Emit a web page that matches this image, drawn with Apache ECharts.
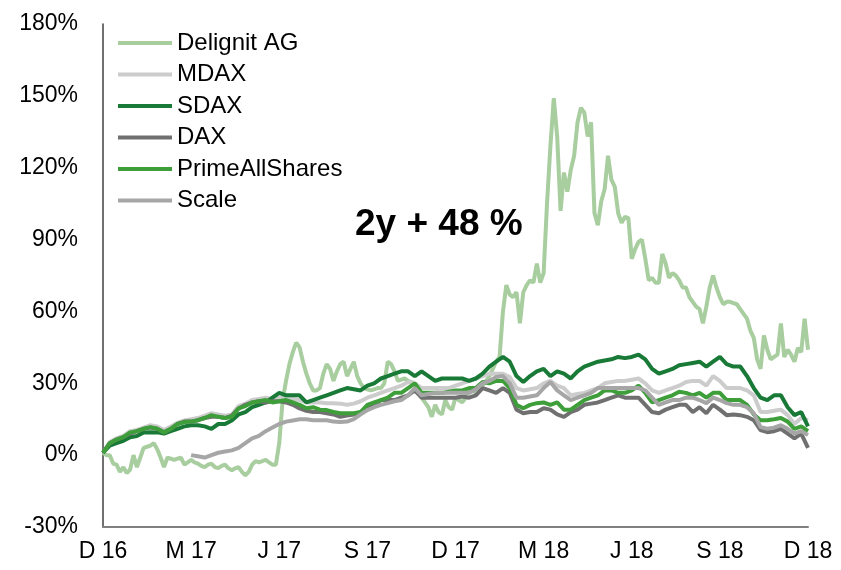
<!DOCTYPE html>
<html lang="en">
<head>
<meta charset="UTF-8">
<title>Delignit AG</title>
<script src="https://cdn.jsdelivr.net/npm/echarts@6.0.0/dist/echarts.min.js"></script>
<style>html,body{margin:0;padding:0;background:#fff;}</style>
</head>
<body>
<div id="chart" style="width:841px;height:570px;"></div>
<script>
// quarter labels under the axis (one every 13 weeks)
var tickLabels = ['D 16', 'M 17', 'J 17', 'S 17', 'D 17', 'M 18', 'J 18', 'S 18', 'D 18'];

// Delignit AG, performance in %, two points per week
var delignit = [
    1, 0, 0, -3.5, -4, -7, -5, -7.5, -6, 0,
    -5, -1, 3, 3.5, 4, 5, 2.5, -1, -5, -1,
    -1.5, -2, -1.5, -1, -4, -3, -2, -3, -3.5, -4.5,
    -5, -4, -3.5, -5, -5.4, -4.5, -4, -5.5, -6.3, -5.5,
    -5, -7, -8.4, -7, -4, -2.5, -3, -2.5, -2, -3,
    -4, -4, 5, 23, 31, 38, 43, 47, 45, 39,
    34, 30, 27, 27, 28, 34, 38, 36, 31, 35,
    38, 39, 33, 36, 39, 33, 30, 28, 27.5, 27,
    27.5, 28, 28, 30, 39, 38, 35, 31, 31.5, 32,
    31, 30.5, 30, 27, 24, 22, 20, 16, 21, 18,
    17, 23, 20, 19, 24, 23, 22, 24, 28, 27,
    26, 27, 29, 31, 33, 36, 39, 41, 60, 71,
    67, 66, 68, 55, 68, 71, 73, 72, 80, 72,
    76, 105, 129, 149, 133, 102, 118, 110, 119, 125,
    139, 145, 143, 133, 139, 101, 96, 106, 111, 125,
    115, 112, 101, 97, 99.5, 99, 82, 86, 89, 90,
    82, 73, 74, 72, 72, 84, 80, 74, 76, 75,
    73, 70, 70, 66, 64, 62, 61, 55, 62, 70,
    75, 70, 66, 63, 64, 64, 63.5, 63, 61, 59,
    57, 52, 49, 40, 36, 50, 44, 40, 41, 42,
    55, 41, 44, 42, 39, 44.7, 43, 57, 44
];

// indices, weekly
var mdax = [
    1, 5.5, 7, 8, 10, 10.5, 11.5, 12.5, 12, 10.5,
    12, 13.5, 14.5, 15, 15.5, 16.5, 17.5, 17, 16.5, 17,
    20.5, 21.5, 23, 23.5, 24, 23.5, 24, 24, 23.5, 23,
    22, 22, 22, 21.7, 21.7, 21.5, 21, 21.5, 22.5, 24,
    25, 26, 27, 28, 29, 30.5, 30, 28, 28, 28,
    28, 28, 29, 30, 31, 32, 33, 34, 34, 34,
    32.6, 28, 27, 27.5, 28, 30, 31, 29, 28, 25,
    25.5, 26, 27, 28, 30, 30.5, 31, 31, 31.5, 32,
    30, 27, 26, 27, 28, 29, 30.5, 31, 31, 29,
    33, 31, 28, 28, 28, 27, 25, 18, 18, 18.5,
    19, 16.7, 13, 15.5, 14.6
];
var sdax = [
    1, 4, 5, 6, 7.5, 8, 9.5, 9.6, 9.5, 9,
    10, 11, 12, 12.5, 12.5, 12, 11, 13, 13, 14.5,
    17, 18, 20, 21, 22, 24, 26, 25, 25, 25,
    22, 23, 24, 25, 26, 27, 28, 27.5, 27, 29,
    30, 32, 33, 34, 35, 35, 33, 35, 33, 31,
    32, 32, 32, 32, 31, 32, 34, 37, 39, 41,
    39, 33, 30.5, 33, 35, 36, 33, 35, 34, 32,
    35, 37, 38, 39, 39.5, 40, 41, 40.5, 41, 42,
    40, 36, 34, 35, 36, 37.5, 38, 38.5, 39, 37,
    39, 41, 38, 37, 37, 33, 28, 24, 23, 25,
    25, 20, 16.7, 18, 12
];
var dax = [
    1, 5, 6.5, 7.5, 9, 10, 11, 11.5, 11, 9.5,
    11, 13, 14, 14, 14.6, 15.5, 16, 16, 15.5, 16.5,
    19.5, 21, 22, 22.5, 22, 22.5, 22.5, 22, 21, 19.5,
    18.5, 18, 18, 17.5, 17, 16, 16.5, 17, 18, 19.6,
    21, 23, 23, 23, 24, 25, 27, 24, 24, 24,
    24, 24, 24, 24.5, 24, 25, 28, 27, 26, 28,
    26, 19, 17.5, 18, 18, 19.6, 19, 17, 16, 18,
    19, 21, 21.5, 22, 23, 24, 25, 24, 24, 24,
    21, 18, 17.5, 19, 20, 21, 21, 18, 20, 17.5,
    21, 19, 16.7, 17, 16.7, 16, 14.6, 10.5, 9.6, 10,
    11, 9, 7, 9, 3
];
var prime = [
    1, 5, 6.5, 7.5, 9.5, 10, 11, 11.7, 11, 9.5,
    11, 13, 13.8, 14, 14.6, 15.5, 16.7, 16, 15.5, 16,
    19.5, 20.5, 22, 22.5, 23, 22, 22.5, 23, 22, 21,
    19.6, 20, 19, 18.8, 18, 17.5, 17.5, 17.5, 18, 21,
    22, 23, 24, 26, 26, 28, 30, 26, 26, 26,
    26, 26.5, 27, 27, 28, 28, 30.5, 30, 31, 31,
    28, 21, 19.6, 21, 21.7, 22, 21, 22, 19, 19,
    21, 23, 24, 25, 27, 27, 26, 26, 27, 29,
    26, 22, 23, 24, 25, 26.5, 26, 25, 26, 24,
    26, 26, 23, 23, 23, 21, 17, 14.6, 14.6, 15,
    15.5, 14, 11, 12, 10
];
// Scale segment starts in March 2017
var scale = [
    null, null, null, null, null, null, null, null, null, null,
    null, null, null, 0, -0.5, -1, 0, 1, 1.5, 2,
    3, 5, 7, 8, 10, 11.5, 13, 14, 14.5, 15,
    15, 14.6, 14.6, 14.6, 14, 13.8, 14, 15, 17, 18.8,
    20, 21, 21.7, 22.5, 23, 25, 28, 25, 25.5, 26,
    26, 26, 26, 26, 26, 27.5, 30, 31, 32.6, 33,
    30, 24, 24, 24.5, 25, 28, 30.5, 27, 25, 23,
    24, 25, 26, 28, 28, 28, 28, 28, 28, 28,
    27, 24, 21, 22, 23, 23, 24, 24, 23, 21.7,
    24, 23, 21.7, 21, 21, 20, 17.5, 11.7, 11, 11.5,
    12.5, 11, 9, 10, 8.4
];

var font = '"Liberation Sans", Arial, sans-serif';

// x in weeks since start
function toPoints(arr, step) {
    return arr.map(function (v, i) { return [i * step, v]; });
}

function lineSeries(name, arr, step, color) {
    return {
        name: name,
        type: 'line',
        symbol: 'none',
        data: toPoints(arr, step),
        lineStyle: { color: color, width: 4 },
        itemStyle: { color: color }
    };
}

var myChart = echarts.init(document.getElementById('chart'));

var option = {
    animation: false,
    backgroundColor: '#fff',
    grid: { left: 103, right: 33, top: 24, bottom: 43 },
    legend: {
        orient: 'vertical',
        left: 118,
        top: 31,
        padding: 0,
        icon: 'rect',
        itemWidth: 54,
        itemHeight: 4,
        itemGap: 7.5,
        textStyle: { fontSize: 24, color: '#000', fontFamily: font, lineHeight: 24 },
        data: ['Delignit AG', 'MDAX', 'SDAX', 'DAX', 'PrimeAllShares', 'Scale']
    },
    xAxis: {
        type: 'value',
        min: 0,
        max: 104,
        interval: 13,
        splitLine: { show: false },
        axisTick: { show: false },
        axisLine: { onZero: false, lineStyle: { color: '#808080', width: 2 } },
        axisLabel: {
            fontSize: 23,
            color: '#000',
            fontFamily: font,
            margin: 13,
            formatter: function (v) { return tickLabels[Math.round(v / 13)] || ''; }
        }
    },
    yAxis: {
        type: 'value',
        min: -30,
        max: 180,
        interval: 30,
        splitLine: { show: false },
        axisTick: { show: false },
        axisLine: { show: true, lineStyle: { color: '#404040', width: 1.5 } },
        axisLabel: {
            fontSize: 23,
            color: '#000',
            fontFamily: font,
            margin: 25,
            formatter: '{value}%'
        }
    },
    graphic: [{
        type: 'text',
        left: 355,
        top: 206,
        style: {
            text: '2y + 48 %',
            font: 'bold 37px ' + font,
            fill: '#000'
        }
    }],
    series: [
        lineSeries('Delignit AG', delignit, 0.5, '#a8cd9f'),
        lineSeries('MDAX', mdax, 1, '#cccccc'),
        lineSeries('SDAX', sdax, 1, '#187a36'),
        lineSeries('DAX', dax, 1, '#707070'),
        lineSeries('PrimeAllShares', prime, 1, '#3d9e3a'),
        lineSeries('Scale', scale, 1, '#a6a6a6')
    ]
};

myChart.setOption(option);
</script>
</body>
</html>
